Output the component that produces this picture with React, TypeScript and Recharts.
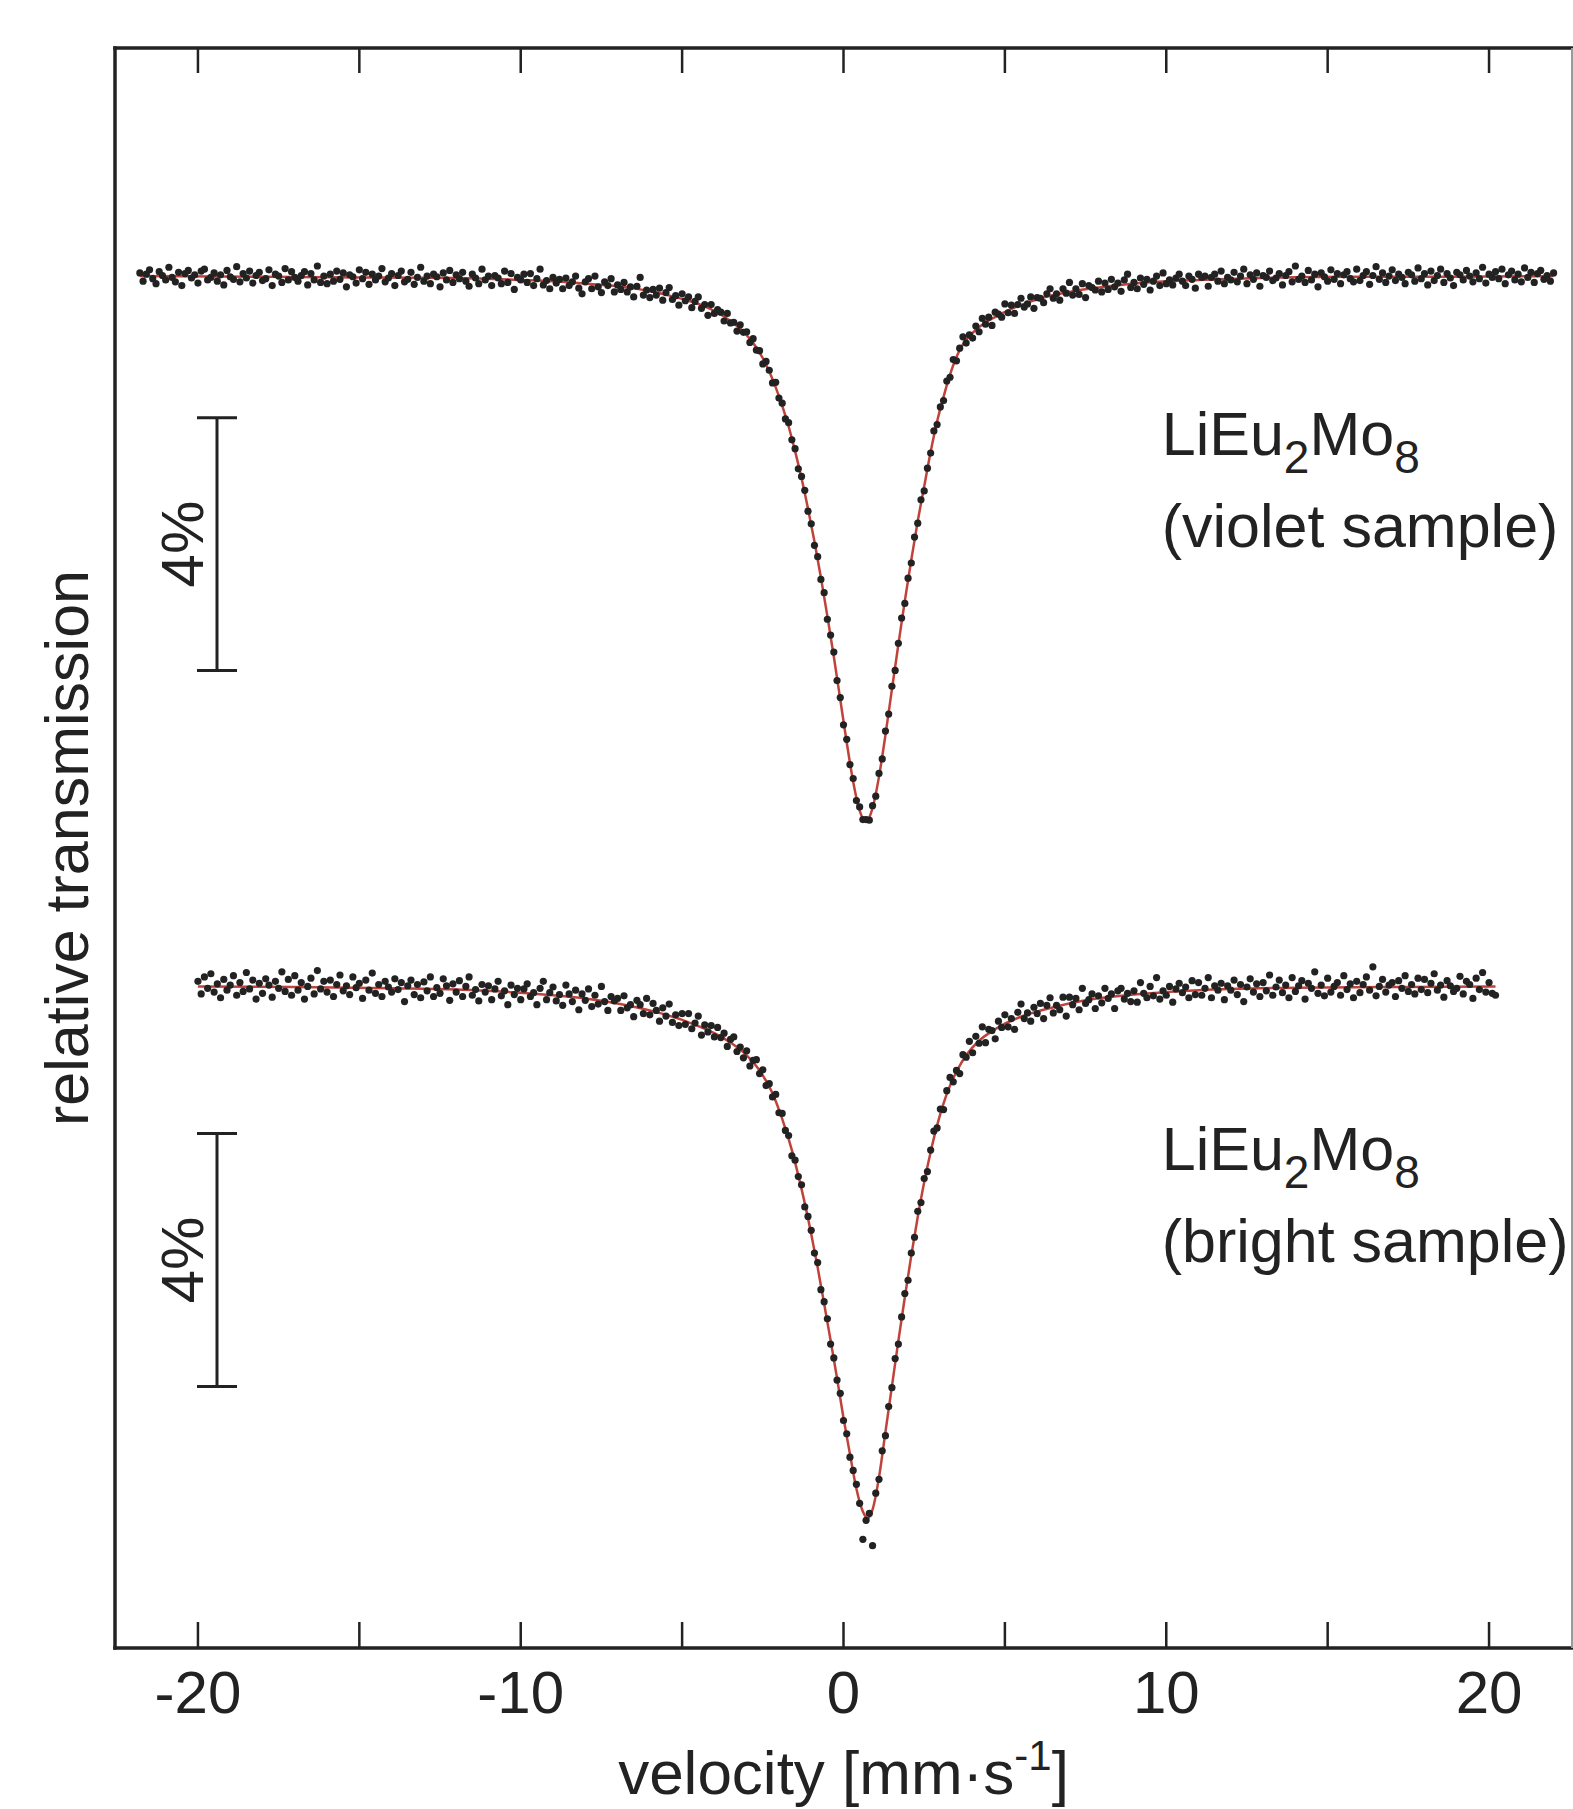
import React from 'react'
import { ComposedChart, Scatter, Line, XAxis, YAxis, ReferenceLine, ReferenceDot } from 'recharts'

// channel velocities (mm/s)
const velocity = [
  -21.8, -21.7, -21.6, -21.5, -21.4, -21.3, -21.2, -21.1, -21, -20.9,
  -20.8, -20.7, -20.6, -20.5, -20.4, -20.3, -20.2, -20.1, -20, -19.9,
  -19.8, -19.7, -19.6, -19.5, -19.4, -19.3, -19.2, -19.1, -19, -18.9,
  -18.8, -18.7, -18.6, -18.5, -18.4, -18.3, -18.2, -18.1, -18, -17.9,
  -17.8, -17.7, -17.6, -17.5, -17.4, -17.3, -17.2, -17.1, -17, -16.9,
  -16.8, -16.7, -16.6, -16.5, -16.4, -16.3, -16.2, -16.1, -16, -15.9,
  -15.8, -15.7, -15.6, -15.5, -15.4, -15.3, -15.2, -15.1, -15, -14.9,
  -14.8, -14.7, -14.6, -14.5, -14.4, -14.3, -14.2, -14.1, -14, -13.9,
  -13.8, -13.7, -13.6, -13.5, -13.4, -13.3, -13.2, -13.1, -13, -12.9,
  -12.8, -12.7, -12.6, -12.5, -12.4, -12.3, -12.2, -12.1, -12, -11.9,
  -11.8, -11.7, -11.6, -11.5, -11.4, -11.3, -11.2, -11.1, -11, -10.9,
  -10.8, -10.7, -10.6, -10.5, -10.4, -10.3, -10.2, -10.1, -10, -9.9,
  -9.8, -9.7, -9.6, -9.5, -9.4, -9.3, -9.2, -9.1, -9, -8.9,
  -8.8, -8.7, -8.6, -8.5, -8.4, -8.3, -8.2, -8.1, -8, -7.9,
  -7.8, -7.7, -7.6, -7.5, -7.4, -7.3, -7.2, -7.1, -7, -6.9,
  -6.8, -6.7, -6.6, -6.5, -6.4, -6.3, -6.2, -6.1, -6, -5.9,
  -5.8, -5.7, -5.6, -5.5, -5.4, -5.3, -5.2, -5.1, -5, -4.9,
  -4.8, -4.7, -4.6, -4.5, -4.4, -4.3, -4.2, -4.1, -4, -3.9,
  -3.8, -3.7, -3.6, -3.5, -3.4, -3.3, -3.2, -3.1, -3, -2.9,
  -2.8, -2.7, -2.6, -2.5, -2.4, -2.3, -2.2, -2.1, -2, -1.9,
  -1.8, -1.7, -1.6, -1.5, -1.4, -1.3, -1.2, -1.1, -1, -0.9,
  -0.8, -0.7, -0.6, -0.5, -0.4, -0.3, -0.2, -0.1, 0, 0.1,
  0.2, 0.3, 0.4, 0.5, 0.6, 0.7, 0.8, 0.9, 1, 1.1,
  1.2, 1.3, 1.4, 1.5, 1.6, 1.7, 1.8, 1.9, 2, 2.1,
  2.2, 2.3, 2.4, 2.5, 2.6, 2.7, 2.8, 2.9, 3, 3.1,
  3.2, 3.3, 3.4, 3.5, 3.6, 3.7, 3.8, 3.9, 4, 4.1,
  4.2, 4.3, 4.4, 4.5, 4.6, 4.7, 4.8, 4.9, 5, 5.1,
  5.2, 5.3, 5.4, 5.5, 5.6, 5.7, 5.8, 5.9, 6, 6.1,
  6.2, 6.3, 6.4, 6.5, 6.6, 6.7, 6.8, 6.9, 7, 7.1,
  7.2, 7.3, 7.4, 7.5, 7.6, 7.7, 7.8, 7.9, 8, 8.1,
  8.2, 8.3, 8.4, 8.5, 8.6, 8.7, 8.8, 8.9, 9, 9.1,
  9.2, 9.3, 9.4, 9.5, 9.6, 9.7, 9.8, 9.9, 10, 10.1,
  10.2, 10.3, 10.4, 10.5, 10.6, 10.7, 10.8, 10.9, 11, 11.1,
  11.2, 11.3, 11.4, 11.5, 11.6, 11.7, 11.8, 11.9, 12, 12.1,
  12.2, 12.3, 12.4, 12.5, 12.6, 12.7, 12.8, 12.9, 13, 13.1,
  13.2, 13.3, 13.4, 13.5, 13.6, 13.7, 13.8, 13.9, 14, 14.1,
  14.2, 14.3, 14.4, 14.5, 14.6, 14.7, 14.8, 14.9, 15, 15.1,
  15.2, 15.3, 15.4, 15.5, 15.6, 15.7, 15.8, 15.9, 16, 16.1,
  16.2, 16.3, 16.4, 16.5, 16.6, 16.7, 16.8, 16.9, 17, 17.1,
  17.2, 17.3, 17.4, 17.5, 17.6, 17.7, 17.8, 17.9, 18, 18.1,
  18.2, 18.3, 18.4, 18.5, 18.6, 18.7, 18.8, 18.9, 19, 19.1,
  19.2, 19.3, 19.4, 19.5, 19.6, 19.7, 19.8, 19.9, 20, 20.1,
  20.2, 20.3, 20.4, 20.5, 20.6, 20.7, 20.8, 20.9, 21, 21.1,
  21.2, 21.3, 21.4, 21.5, 21.6, 21.7, 21.8, 21.9, 22,
]

// violet sample, relative transmission in % (one value per channel)
const violetT = [
  100.03, 99.90, 100.01, 100.08, 99.94, 99.86, 100.05, 99.99, 99.92, 100.12,
  99.96, 99.89, 100.04, 99.83, 100.02, 100.07, 99.95, 100.00, 99.87, 100.06,
  100.09, 99.92, 99.96, 100.03, 99.90, 100.00, 99.84, 100.07, 99.97, 99.93,
  100.13, 99.89, 100.02, 99.95, 100.06, 99.87, 99.99, 100.04, 99.91, 99.94,
  100.08, 99.83, 100.01, 99.98, 99.88, 100.10, 99.92, 100.05, 99.96, 99.90,
  99.99, 100.05, 99.84, 100.02, 99.92, 100.14, 99.88, 99.98, 99.86, 100.01,
  99.90, 100.06, 99.93, 100.03, 99.81, 100.00, 99.97, 99.87, 100.08, 99.94,
  100.04, 99.85, 100.01, 99.92, 99.98, 100.10, 99.89, 99.95, 100.02, 99.83,
  99.99, 100.06, 99.89, 99.93, 100.04, 99.85, 99.96, 100.12, 99.90, 99.98,
  99.86, 100.01, 99.97, 99.81, 100.03, 99.92, 100.07, 99.88, 100.00, 99.94,
  100.04, 99.90, 99.82, 100.01, 99.95, 99.86, 100.09, 99.92, 99.98, 99.83,
  99.99, 99.95, 99.86, 100.06, 99.88, 100.02, 99.77, 99.96, 99.92, 100.01,
  99.88, 100.02, 99.83, 99.94, 100.09, 99.84, 99.91, 99.78, 99.96, 99.87,
  99.93, 99.78, 99.95, 99.83, 99.89, 99.98, 99.79, 99.70, 99.89, 99.94,
  99.78, 99.98, 99.81, 99.72, 99.89, 99.83, 99.94, 99.73, 99.84, 99.77,
  99.88, 99.73, 99.81, 99.65, 99.82, 99.96, 99.68, 99.76, 99.64, 99.77,
  99.68, 99.79, 99.60, 99.72, 99.80, 99.61, 99.67, 99.52, 99.70, 99.59,
  99.65, 99.48, 99.58, 99.65, 99.47, 99.53, 99.36, 99.53, 99.39, 99.45,
  99.41, 99.27, 99.39, 99.24, 99.25, 99.11, 99.21, 99.09, 99.10, 98.93,
  98.99, 98.81, 98.80, 98.59, 98.63, 98.49, 98.29, 98.30, 98.05, 97.97,
  97.72, 97.66, 97.39, 97.25, 96.93, 96.81, 96.59, 96.26, 96.06, 95.72,
  95.54, 95.18, 94.97, 94.55, 94.30, 94.03, 93.58, 93.31, 92.88, 92.65,
  92.25, 92.03, 91.68, 91.58, 91.38, 91.38, 91.37, 91.60, 91.75, 92.11,
  92.34, 92.78, 93.05, 93.49, 93.74, 94.17, 94.57, 94.80, 95.20, 95.44,
  95.85, 96.07, 96.44, 96.58, 96.94, 97.18, 97.53, 97.63, 97.91, 98.01,
  98.32, 98.38, 98.66, 98.64, 98.84, 99.02, 98.92, 99.05, 99.00, 99.19,
  99.10, 99.31, 99.22, 99.33, 99.20, 99.41, 99.38, 99.33, 99.54, 99.40,
  99.52, 99.39, 99.53, 99.63, 99.49, 99.54, 99.65, 99.47, 99.64, 99.63,
  99.56, 99.70, 99.78, 99.63, 99.70, 99.60, 99.78, 99.71, 99.88, 99.68,
  99.78, 99.69, 99.86, 99.64, 99.83, 99.80, 99.76, 99.90, 99.73, 99.87,
  99.77, 99.93, 99.81, 99.87, 99.74, 99.92, 100.01, 99.80, 99.88, 99.78,
  99.95, 99.85, 99.93, 99.76, 99.90, 99.98, 99.83, 100.03, 99.86, 99.92,
  99.84, 99.95, 100.01, 99.90, 99.83, 99.98, 99.93, 99.79, 100.01, 99.96,
  99.98, 99.82, 99.96, 100.01, 99.90, 100.06, 99.86, 99.96, 99.92, 100.04,
  99.89, 99.98, 100.09, 99.86, 100.00, 99.93, 100.03, 99.82, 99.99, 99.96,
  100.06, 99.91, 99.95, 100.02, 99.84, 99.99, 100.05, 99.89, 100.14, 99.93,
  99.98, 99.88, 100.07, 99.92, 100.01, 99.81, 100.03, 99.97, 99.90, 100.08,
  99.93, 100.02, 99.86, 100.00, 100.05, 99.94, 99.89, 100.09, 99.91, 99.99,
  100.05, 99.85, 99.99, 100.13, 99.93, 100.03, 99.88, 99.98, 100.08, 99.91,
  100.01, 99.96, 99.86, 100.04, 100.00, 99.90, 100.11, 99.94, 100.02, 99.84,
  100.06, 99.91, 99.99, 100.09, 99.88, 100.02, 99.95, 99.83, 100.04, 100.00,
  99.92, 100.07, 99.98, 99.89, 100.03, 99.94, 100.12, 99.87, 100.01, 99.96,
  100.05, 99.94, 100.09, 99.86, 100.00, 100.06, 99.92, 100.01, 99.89, 100.11,
  99.96, 100.04, 99.88, 100.02, 100.07, 99.93, 99.99, 99.90, 100.03,
]

// bright sample, relative transmission in %, channels from -20.0 to 20.2 mm/s
const brightT = [
  100.05, 99.85, 100.12, 99.94, 100.17, 99.88, 100.01, 99.79, 100.08, 99.91,
  99.99, 100.14, 99.83, 100.03, 99.89, 100.19, 99.93, 100.07, 99.77, 100.02,
  99.86, 100.09, 99.99, 99.80, 100.05, 99.94, 100.20, 99.89, 100.08, 99.83,
  100.14, 99.91, 100.03, 99.77, 99.97, 100.10, 99.85, 100.22, 99.93, 100.05,
  99.88, 100.07, 99.81, 100.00, 100.15, 99.90, 99.98, 99.84, 100.12, 99.95,
  100.02, 99.78, 100.07, 99.91, 100.18, 99.86, 100.00, 99.81, 100.05, 99.96,
  99.88, 100.09, 99.92, 100.03, 99.73, 99.98, 100.07, 99.84, 100.00, 99.79,
  100.04, 99.90, 100.12, 99.81, 99.95, 99.86, 100.09, 99.98, 99.75, 100.01,
  99.88, 100.06, 99.81, 99.97, 100.12, 99.83, 99.92, 99.74, 100.00, 99.88,
  99.98, 99.76, 99.93, 100.05, 99.82, 99.90, 99.68, 99.99, 99.84, 99.94,
  99.76, 99.93, 100.01, 99.81, 99.87, 99.68, 99.94, 100.05, 99.76, 99.87,
  99.96, 99.74, 99.84, 99.67, 99.99, 99.85, 99.73, 99.91, 99.60, 99.85,
  99.75, 99.93, 99.65, 99.83, 99.69, 99.97, 99.73, 99.59, 99.81, 99.74,
  99.78, 99.59, 99.82, 99.63, 99.68, 99.49, 99.75, 99.68, 99.54, 99.78,
  99.52, 99.70, 99.59, 99.42, 99.63, 99.50, 99.69, 99.40, 99.52, 99.35,
  99.54, 99.37, 99.54, 99.30, 99.39, 99.50, 99.20, 99.36, 99.25, 99.35,
  99.17, 99.32, 99.16, 99.23, 99.02, 99.13, 99.17, 98.94, 99.01, 98.84,
  98.95, 98.71, 98.80, 98.81, 98.59, 98.65, 98.40, 98.43, 98.22, 98.26,
  97.97, 97.96, 97.69, 97.61, 97.29, 97.22, 96.96, 96.83, 96.48, 96.33,
  96.11, 95.75, 95.60, 95.17, 94.98, 94.71, 94.31, 94.09, 93.74, 93.53,
  93.10, 92.89, 92.52, 92.31, 92.09, 91.79, 91.22, 91.52, 91.63, 91.12,
  91.95, 92.17, 92.62, 92.86, 93.32, 93.62, 94.08, 94.31, 94.74, 95.11,
  95.32, 95.75, 96.00, 96.41, 96.55, 96.93, 97.04, 97.38, 97.68, 97.73,
  98.03, 98.02, 98.32, 98.53, 98.46, 98.64, 98.59, 98.89, 98.85, 99.10,
  98.92, 99.18, 99.07, 99.33, 99.08, 99.29, 99.27, 99.14, 99.42, 99.32,
  99.52, 99.33, 99.46, 99.29, 99.56, 99.69, 99.46, 99.55, 99.42, 99.64,
  99.54, 99.70, 99.46, 99.67, 99.79, 99.55, 99.67, 99.60, 99.80, 99.50,
  99.80, 99.68, 99.78, 99.60, 99.94, 99.70, 99.76, 99.85, 99.62, 99.82,
  99.71, 99.94, 99.78, 99.85, 99.62, 99.90, 99.94, 99.77, 99.86, 99.73,
  99.90, 99.72, 100.03, 99.86, 99.79, 99.97, 99.82, 100.11, 99.77, 99.90,
  99.83, 99.97, 99.72, 99.93, 100.02, 99.87, 99.96, 99.79, 100.06, 99.84,
  100.03, 99.83, 99.94, 100.11, 99.79, 99.98, 99.91, 100.02, 99.76, 99.98,
  99.91, 100.07, 99.84, 100.00, 99.73, 99.96, 100.09, 99.88, 100.01, 99.81,
  100.03, 99.90, 100.15, 99.83, 99.96, 100.07, 99.87, 99.99, 99.79, 100.11,
  99.89, 99.98, 100.06, 99.77, 100.02, 99.94, 100.20, 99.86, 99.99, 99.82,
  100.10, 99.88, 99.97, 100.03, 99.83, 100.14, 99.92, 100.01, 99.79, 100.05,
  99.87, 100.00, 100.12, 99.91, 100.28, 99.82, 99.97, 100.08, 99.88, 99.99,
  100.03, 99.81, 100.06, 99.94, 100.14, 99.89, 100.00, 99.85, 100.10, 99.92,
  100.08, 99.87, 100.02, 100.17, 99.91, 99.99, 99.80, 100.06, 99.98, 99.89,
  99.94, 100.13, 99.85, 100.05, 100.00, 99.78, 100.10, 99.92, 100.19, 99.88,
  100.03, 99.86, 99.83,
]

// fitted curves
const fitVioletV = [
  -21.8, -18, -15, -12, -10, -9, -8, -7, -6.3, -5.8, -5.3, -4.8, -4.3, -3.9, -3.5, -3.1,
  -2.7, -2.5, -2.3, -2.1, -1.9, -1.7, -1.5, -1.3, -1.1, -0.9, -0.7, -0.5, -0.3, -0.1,
  0.1, 0.3, 0.5, 0.7, 0.9, 1.1, 1.3, 1.5, 1.7, 1.9, 2.1, 2.3, 2.5, 2.7, 2.9, 3.1, 3.3,
  3.5, 3.7, 4, 4.4, 4.8, 5.2, 5.7, 6.2, 6.7, 7.2, 8.2, 9.7, 11, 13, 16, 19, 22,
]
const fitVioletT = [
  99.98, 99.97, 99.96, 99.95, 99.92, 99.90, 99.86, 99.82, 99.77, 99.72, 99.66, 99.59, 99.50, 99.40, 99.27, 99.10,
  98.85, 98.68, 98.47, 98.22, 97.93, 97.60, 97.21, 96.78, 96.30, 95.78, 95.21, 94.60, 93.96, 93.28,
  92.60, 91.98, 91.52, 91.35, 91.56, 92.06, 92.72, 93.44, 94.15, 94.84, 95.49, 96.10, 96.65, 97.20, 97.68, 98.07, 98.42,
  98.70, 98.90, 99.08, 99.25, 99.36, 99.46, 99.56, 99.64, 99.70, 99.75, 99.82, 99.89, 99.92, 99.95, 99.97, 99.97, 99.98,
]
const fitBrightV = [
  -20, -17, -14, -12, -10, -9, -8, -7, -6, -5, -4.5, -4, -3.5, -3, -2.6, -2.2, -2, -1.8, -1.6, -1.4,
  -1.2, -1, -0.8, -0.6, -0.4, -0.2, 0, 0.2, 0.4, 0.6, 0.75, 0.9, 1.1, 1.3, 1.5, 1.7, 1.9, 2.1, 2.3,
  2.5, 2.7, 2.9, 3.1, 3.3, 3.5, 3.8, 4.2, 4.6, 5, 5.6, 6.5, 7.5, 9, 11, 14, 17, 20.2,
]
const fitBrightT = [
  99.97, 99.96, 99.94, 99.92, 99.87, 99.83, 99.78, 99.70, 99.59, 99.44, 99.34, 99.23, 99.08, 98.88, 98.64, 98.28, 98.02, 97.72, 97.38, 96.98,
  96.54, 96.05, 95.52, 94.95, 94.37, 93.77, 93.14, 92.57, 92.02, 91.66, 91.55, 91.69, 92.20, 92.92, 93.64, 94.36, 95.05, 95.71, 96.32,
  96.87, 97.35, 97.77, 98.12, 98.40, 98.62, 98.88, 99.11, 99.26, 99.38, 99.51, 99.64, 99.75, 99.84, 99.91, 99.95, 99.96, 99.97,
]

// lower spectrum is shifted down on the plot
const brightOffset = -11.23

const xTicks = [-20, -15, -10, -5, 0, 5, 10, 15, 20]
const xTickLabels = ['-20', '', '-10', '', '0', '', '10', '', '20']

const FONT = 'Arial, "Liberation Sans", Helvetica, sans-serif'
const INK = '#222222'
const FIT = '#c0433b'
const X_DOMAIN = [-22.57, 22.57]
const Y_DOMAIN = [78.27, 103.59]

const violetRows = velocity.map((v, i) => ({ v, t: violetT[i] }))
const brightStart = velocity.indexOf(-20)
const brightRows = brightT.map((t, i) => ({ v: velocity[brightStart + i], t: t + brightOffset }))
const violetFit = fitVioletV.map((v, i) => ({ v, t: fitVioletT[i] }))
const brightFit = fitBrightV.map((v, i) => ({ v, t: fitBrightT[i] + brightOffset }))

const Dot = (p: any) => <circle cx={p.cx} cy={p.cy} r={3.6} fill={INK} />

const BottomTick = ({ x, y, payload }: any) => {
  const i = xTicks.indexOf(payload.value)
  return (
    <g>
      <line x1={x} x2={x} y1={y} y2={y - 26} stroke={INK} strokeWidth={2.5} />
      <text x={x} y={y + 65} textAnchor="middle" fontSize={60} fontFamily={FONT} fill={INK}>
        {xTickLabels[i]}
      </text>
    </g>
  )
}

const TopTick = ({ x, y }: any) => (
  <line x1={x} x2={x} y1={y} y2={y + 25} stroke={INK} strokeWidth={2.5} />
)

const sampleLabel = (name: string) => (p: any) => (
  <g fontFamily={FONT} fill={INK}>
    <text x={p.cx} y={p.cy} fontSize={61}>
      <tspan>LiEu</tspan>
      <tspan fontSize={46} dy={18}>2</tspan>
      <tspan dy={-18}>Mo</tspan>
      <tspan fontSize={46} dy={18}>8</tspan>
    </text>
    <text x={p.cx} y={p.cy + 92} fontSize={61}>{name}</text>
  </g>
)

const percentLabel = (p: any) => (
  <text transform={`translate(${p.cx},${p.cy}) rotate(-90)`} textAnchor="middle" fontSize={60} fontFamily={FONT} fill={INK}>
    4%
  </text>
)

const bar = { stroke: INK, strokeWidth: 3 }

export default function App() {
  return (
    <div style={{ position: 'absolute', left: 0, top: 0, width: 1573, height: 1809, background: '#fff' }}>
      <ComposedChart width={1573} height={1809} margin={{ top: 0, right: 0, bottom: 0, left: 0 }}>
        <XAxis
          type="number" dataKey="v" domain={X_DOMAIN} ticks={xTicks} interval={0} allowDataOverflow
          height={161} tickSize={0} tickMargin={0} tickLine={false} tick={BottomTick}
          axisLine={{ stroke: INK, strokeWidth: 3.5, strokeLinecap: 'square' }}
          label={(p: any) => {
            const vb = p.viewBox
            return (
              <text x={vb.x + vb.width / 2} y={vb.y + 146} textAnchor="middle" fontSize={62} fontFamily={FONT} fill={INK}>
                velocity [mm·s<tspan fontSize={42} dy={-24}>-1</tspan><tspan dy={24}>]</tspan>
              </text>
            )
          }}
        />
        <XAxis
          xAxisId="top" orientation="top" type="number" dataKey="v" domain={X_DOMAIN} ticks={xTicks}
          interval={0} allowDataOverflow height={48} tickSize={0} tickMargin={0} tickLine={false} tick={TopTick}
          axisLine={{ stroke: INK, strokeWidth: 3.5, strokeLinecap: 'square' }}
        />
        <YAxis
          type="number" dataKey="t" domain={Y_DOMAIN} allowDataOverflow width={115} tick={false} tickLine={false}
          axisLine={{ stroke: INK, strokeWidth: 3.5, strokeLinecap: 'square' }}
          label={(p: any) => {
            const vb = p.viewBox
            return (
              <text transform={`translate(${vb.x + 88},${vb.y + vb.height / 2}) rotate(-90)`} textAnchor="middle" fontSize={61} fontFamily={FONT} fill={INK}>
                relative transmission
              </text>
            )
          }}
        />
        <YAxis
          yAxisId="right" orientation="right" type="number" domain={Y_DOMAIN} allowDataOverflow width={1}
          tick={false} tickLine={false} axisLine={{ stroke: '#9a9a9a', strokeWidth: 2 }}
        />

        <Scatter data={violetRows} dataKey="t" shape={Dot} isAnimationActive={false} />
        <Scatter data={brightRows} dataKey="t" shape={Dot} isAnimationActive={false} />
        <Line data={violetFit} dataKey="t" type="monotone" stroke={FIT} strokeWidth={2.5} dot={false} activeDot={false} isAnimationActive={false} />
        <Line data={brightFit} dataKey="t" type="monotone" stroke={FIT} strokeWidth={2.5} dot={false} activeDot={false} isAnimationActive={false} />

        {/* 4% scale bars */}
        <ReferenceLine segment={[{ x: -19.41, y: 97.74 }, { x: -19.41, y: 93.74 }]} {...bar} />
        <ReferenceLine segment={[{ x: -20.03, y: 97.74 }, { x: -18.79, y: 97.74 }]} {...bar} />
        <ReferenceLine segment={[{ x: -20.03, y: 93.74 }, { x: -18.79, y: 93.74 }]} {...bar} />
        <ReferenceLine segment={[{ x: -19.41, y: 86.41 }, { x: -19.41, y: 82.41 }]} {...bar} />
        <ReferenceLine segment={[{ x: -20.03, y: 86.41 }, { x: -18.79, y: 86.41 }]} {...bar} />
        <ReferenceLine segment={[{ x: -20.03, y: 82.41 }, { x: -18.79, y: 82.41 }]} {...bar} />
        <ReferenceDot x={-19.85} y={95.74} r={0} shape={percentLabel} />
        <ReferenceDot x={-19.85} y={84.41} r={0} shape={percentLabel} />

        <ReferenceDot x={9.86} y={97.15} r={0} shape={sampleLabel('(violet sample)')} />
        <ReferenceDot x={9.86} y={85.84} r={0} shape={sampleLabel('(bright sample)')} />
      </ComposedChart>
    </div>
  )
}
